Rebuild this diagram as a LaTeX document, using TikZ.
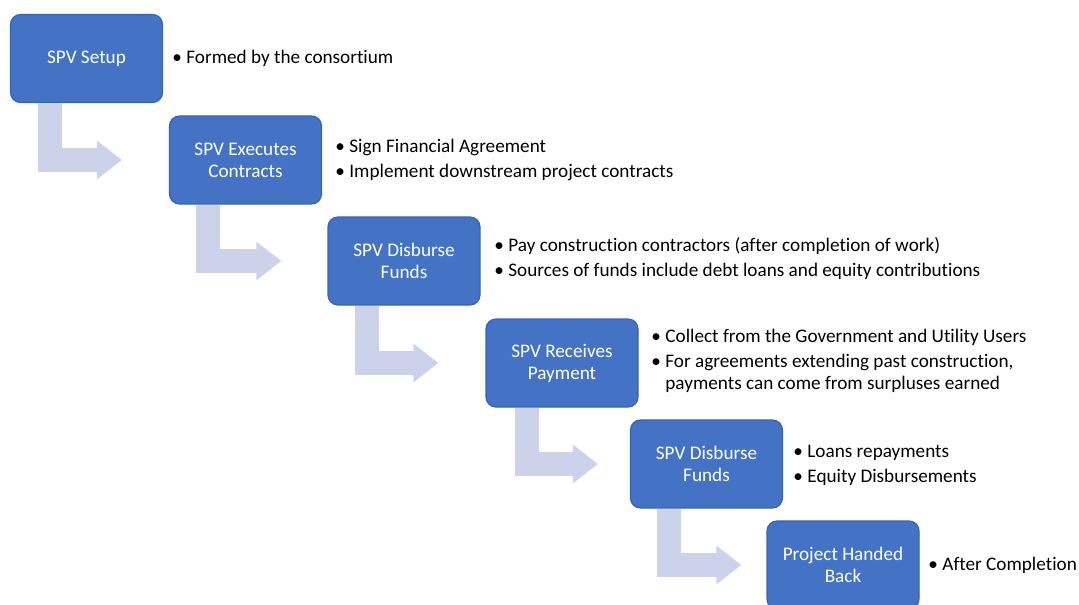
\documentclass[tikz,border=0pt]{standalone}
\usepackage{fontspec}
\setmainfont[Ligatures=NoCommon]{Carlito}
\usetikzlibrary{arrows.meta}

\definecolor{stageblue}{HTML}{4472C4}
\definecolor{stageedge}{HTML}{3A63AE}
\definecolor{flowlav}{HTML}{CCD2EA}

\newcommand{\itm}{\makebox[7pt][l]{\textbullet}}
\newcommand{\cnt}{\hspace*{7pt}}

\tikzset{
  stage/.style={draw=stageedge, fill=stageblue, line width=0.6pt, rounded corners=5pt,
    minimum width=76pt, minimum height=44pt, text=white, align=center,
    font=\fontsize{9.6}{11}\selectfont},
  note/.style={anchor=west, align=left, inner sep=0pt, font=\fontsize{9.6}{11}\selectfont},
  flow/.style={draw=flowlav, line width=12pt, -{Triangle[length=12.5pt,width=18.5pt]}}
}

\begin{document}
\begin{tikzpicture}[x=0.5pt, y=-0.5pt]
		\useasboundingbox (0,0) rectangle (1079,604);
		\clip (0,0) rectangle (1079,604);
		% Etapas
		\node[stage] (setup) at (86.5,58.5) {SPV Setup};
		\node[stage] (execute) at (245.5,160) {SPV Executes\\Contracts};
		\node[stage] (disburse) at (404,261) {SPV Disburse\\Funds};
		\node[stage] (receive) at (562,363) {SPV Receives\\Payment};
		\node[stage] (repay) at (706.5,464) {SPV Disburse\\Funds};
		\node[stage] (handback) at (843,565) {Project Handed\\Back};
		% Setas dobradas
		\draw[flow] ([xshift=20pt]setup.south west) |- ([xshift=-23.5pt]execute.west);
		\draw[flow] ([xshift=19.5pt]execute.south west) |- ([xshift=-23pt]disburse.west);
		\draw[flow] ([xshift=20pt]disburse.south west) |- ([xshift=-23.5pt]receive.west);
		\draw[flow] ([xshift=21pt]receive.south west) |- ([xshift=-16pt]repay.west);
		\draw[flow] ([xshift=19.5pt]repay.south west) |- ([xshift=-12.5pt]handback.west);
		% Descrições
		\node[note] (n1) at (172,58) {\itm Formed by the consortium};
		\node[note] (n2) at (335,160) {\itm Sign Financial Agreement\\[1.5pt]
			\itm Implement downstream project contracts};
		\node[note] (n3) at (494,259) {\itm Pay construction contractors (after completion of work)\\[1.5pt]
			\itm Sources of funds include debt loans and equity contributions};
		\node[note] (n4) at (651,361) {\itm Collect from the Government and Utility Users\\[1.5pt]
			\itm For agreements extending past construction,\\
			\cnt payments can come from surpluses earned};
		\node[note] (n5) at (793,465) {\itm Loans repayments\\[1.5pt]
			\itm Equity Disbursements};
		\node[note] (n6) at (928,565) {\itm After Completion};
	\end{tikzpicture}
\end{document}
